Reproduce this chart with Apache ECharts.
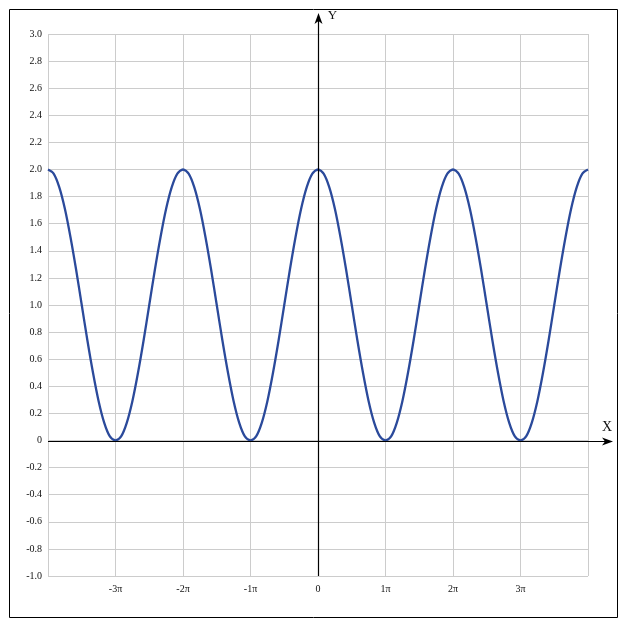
<!DOCTYPE html>
<html>
<head>
<meta charset="utf-8">
<script src="https://cdn.jsdelivr.net/npm/echarts@6/dist/echarts.min.js"></script>
<style>
  html, body { margin: 0; padding: 0; background: #fff; }
  #chart { width: 627px; height: 630px; }
</style>
</head>
<body>
<div id="chart"></div>
<script>
// x positions in units of pi/12
var xTwelfths = [
  -48, -47, -46, -45, -44, -43, -42, -41, -40, -39, -38, -37,
  -36, -35, -34, -33, -32, -31, -30, -29, -28, -27, -26, -25,
  -24, -23, -22, -21, -20, -19, -18, -17, -16, -15, -14, -13,
  -12, -11, -10, -9, -8, -7, -6, -5, -4, -3, -2, -1,
  0, 1, 2, 3, 4, 5, 6, 7, 8, 9, 10, 11,
  12, 13, 14, 15, 16, 17, 18, 19, 20, 21, 22, 23,
  24, 25, 26, 27, 28, 29, 30, 31, 32, 33, 34, 35,
  36, 37, 38, 39, 40, 41, 42, 43, 44, 45, 46, 47, 48
]
var yVals = [
  2.0, 1.97, 1.87, 1.71, 1.5, 1.26, 1.0, 0.74, 0.5, 0.29, 0.13, 0.03,
  0, 0.03, 0.13, 0.29, 0.5, 0.74, 1.0, 1.26, 1.5, 1.71, 1.87, 1.97,
  2.0, 1.97, 1.87, 1.71, 1.5, 1.26, 1.0, 0.74, 0.5, 0.29, 0.13, 0.03,
  0, 0.03, 0.13, 0.29, 0.5, 0.74, 1.0, 1.26, 1.5, 1.71, 1.87, 1.97,
  2.0, 1.97, 1.87, 1.71, 1.5, 1.26, 1.0, 0.74, 0.5, 0.29, 0.13, 0.03,
  0, 0.03, 0.13, 0.29, 0.5, 0.74, 1.0, 1.26, 1.5, 1.71, 1.87, 1.97,
  2.0, 1.97, 1.87, 1.71, 1.5, 1.26, 1.0, 0.74, 0.5, 0.29, 0.13, 0.03,
  0, 0.03, 0.13, 0.29, 0.5, 0.74, 1.0, 1.26, 1.5, 1.71, 1.87, 1.97, 2.0
]
var xTickLabels = { '-3': '-3π', '-2': '-2π', '-1': '-1π', '0': '0', '1': '1π', '2': '2π', '3': '3π' }

var serif = '"Liberation Serif", "DejaVu Serif", serif'
var chart = echarts.init(document.getElementById('chart'))

chart.setOption({
  backgroundColor: '#fff',
  animation: false,
  grid: { left: 48, top: 34, width: 540, height: 542, containLabel: false },
  xAxis: {
    type: 'value',
    min: -4, max: 4, interval: 1,
    axisLine: { show: false, onZero: false },
    axisTick: { show: false },
    splitLine: { show: true, lineStyle: { color: '#cccccc', width: 1 } },
    axisLabel: {
      margin: 8,
      color: '#111',
      fontFamily: serif,
      fontSize: 10,
      showMinLabel: false,
      showMaxLabel: false,
      formatter: function (v) { return xTickLabels[String(Math.round(v))] || '' }
    }
  },
  yAxis: {
    type: 'value',
    min: -1, max: 3, interval: 0.2,
    axisLine: { show: false, onZero: false },
    axisTick: { show: false },
    splitLine: { show: true, lineStyle: { color: '#cccccc', width: 1 } },
    axisLabel: {
      margin: 6,
      color: '#111',
      fontFamily: serif,
      fontSize: 10,
      formatter: function (v) { return Math.abs(v) < 1e-9 ? '0' : v.toFixed(1) }
    }
  },
  series: [{
    type: 'line',
    smooth: 0.3,
    symbol: 'none',
    z: 5,
    lineStyle: { color: '#2b4a9b', width: 2.3 },
    data: xTwelfths.map(function (x, i) { return [x / 12, yVals[i]] })
  }]
})

// axes with arrows, placed from the chart's own scales
var o = chart.convertToPixel({ gridIndex: 0 }, [0, 0])
var xl = chart.convertToPixel({ gridIndex: 0 }, [-4, 0])[0]
var xr = chart.convertToPixel({ gridIndex: 0 }, [4, 0])[0] + 25
var yb = chart.convertToPixel({ gridIndex: 0 }, [0, -1])[1]
var yt = chart.convertToPixel({ gridIndex: 0 }, [0, 3])[1] - 21
var ox = Math.round(o[0]) + 0.5
var oy = Math.round(o[1]) + 0.5

chart.setOption({
  graphic: [
    { type: 'rect', shape: { x: 9.5, y: 9.5, width: 608, height: 608 },
      style: { fill: 'none', stroke: '#000', lineWidth: 1 }, z: 100 },
    { type: 'line', shape: { x1: xl, y1: oy, x2: xr - 6, y2: oy },
      style: { stroke: '#000', lineWidth: 1.2 }, z: 100 },
    { type: 'polygon', shape: { points: [[xr, oy], [xr - 11, oy - 4], [xr - 8, oy], [xr - 11, oy + 4]] },
      style: { fill: '#000' }, z: 100 },
    { type: 'line', shape: { x1: ox, y1: yb, x2: ox, y2: yt + 6 },
      style: { stroke: '#000', lineWidth: 1.2 }, z: 100 },
    { type: 'polygon', shape: { points: [[ox, yt], [ox - 4, yt + 11], [ox, yt + 8], [ox + 4, yt + 11]] },
      style: { fill: '#000' }, z: 100 },
    { type: 'text', x: xr - 6, y: oy - 21,
      style: { text: 'X', font: '14px ' + serif, fill: '#111', align: 'center' }, z: 100 },
    { type: 'text', x: ox + 14, y: yt - 4,
      style: { text: 'Y', font: '13px ' + serif, fill: '#111', align: 'center' }, z: 100 }
  ]
})
</script>
</body>
</html>
